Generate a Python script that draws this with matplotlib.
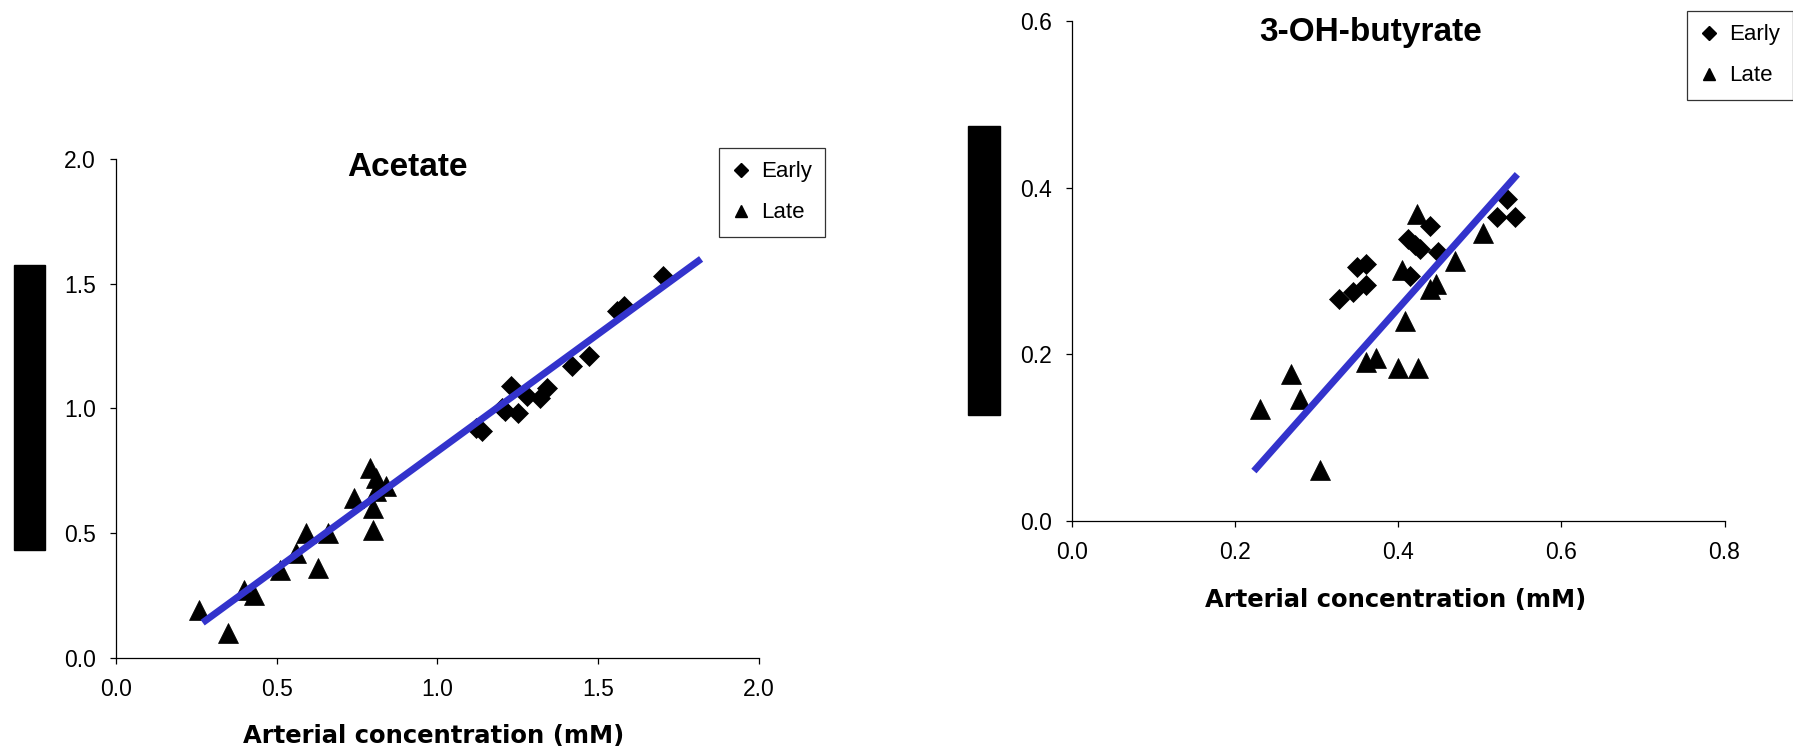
import matplotlib
matplotlib.use("Agg")
import matplotlib.pyplot as plt
from matplotlib.lines import Line2D
from matplotlib.patches import Rectangle

plt.rcParams['font.family'] = ['Liberation Sans', 'DejaVu Sans']

# Acetate panel
acetate_early_x = [1.12, 1.14, 1.20, 1.21, 1.23, 1.25, 1.28, 1.32, 1.34, 1.42, 1.47, 1.56, 1.58, 1.70]
acetate_early_y = [0.92, 0.91, 1.00, 0.99, 1.09, 0.98, 1.05, 1.04, 1.08, 1.17, 1.21, 1.39, 1.41, 1.53]
acetate_late_x = [0.26, 0.35, 0.40, 0.43, 0.51, 0.56, 0.59, 0.63, 0.66, 0.74, 0.79, 0.81, 0.81, 0.80, 0.80, 0.84]
acetate_late_y = [0.19, 0.10, 0.27, 0.25, 0.35, 0.42, 0.50, 0.36, 0.50, 0.64, 0.76, 0.72, 0.67, 0.60, 0.51, 0.69]
acetate_fit_x = [0.27, 1.82]
acetate_fit_y = [0.14, 1.60]

# 3-OH-butyrate panel
bhb_early_x = [0.327, 0.345, 0.360, 0.349, 0.361, 0.412, 0.420, 0.427, 0.414, 0.439, 0.449, 0.521, 0.533, 0.543]
bhb_early_y = [0.267, 0.275, 0.283, 0.305, 0.309, 0.339, 0.331, 0.327, 0.294, 0.354, 0.323, 0.365, 0.386, 0.365]
bhb_late_x = [0.231, 0.269, 0.280, 0.304, 0.361, 0.373, 0.400, 0.424, 0.408, 0.404, 0.423, 0.439, 0.446, 0.470, 0.504]
bhb_late_y = [0.135, 0.177, 0.147, 0.061, 0.191, 0.196, 0.184, 0.184, 0.240, 0.301, 0.369, 0.279, 0.285, 0.312, 0.346]
bhb_fit_x = [0.223, 0.546]
bhb_fit_y = [0.060, 0.416]

acetate_ticks = [0.0, 0.5, 1.0, 1.5, 2.0]
bhb_xticks = [0.0, 0.2, 0.4, 0.6, 0.8]
bhb_yticks = [0.0, 0.2, 0.4, 0.6]

xlabel = "Arterial concentration (mM)"
line_color = "#3333CC"


def draw_panel(ax, ex, ey, lx, ly, fx, fy, title, title_pos, legend_anchor):
    ax.plot(ex, ey, 'D', color='black', ms=10.5, mew=0.5, ls='none', zorder=3)
    ax.plot(lx, ly, '^', color='black', ms=14.5, mew=0.5, ls='none', zorder=3)
    ax.plot(fx, fy, color=line_color, lw=5, solid_capstyle='butt', zorder=4)

    for side in ['top', 'right']:
        ax.spines[side].set_visible(False)
    for side in ['left', 'bottom']:
        ax.spines[side].set_linewidth(0.9)
    ax.tick_params(direction='out', length=4.5, width=0.9, labelsize=16.5, pad=10)
    ax.xaxis.set_major_formatter(plt.FormatStrFormatter('%.1f'))
    ax.yaxis.set_major_formatter(plt.FormatStrFormatter('%.1f'))

    ax.text(title_pos[0], title_pos[1], title, transform=ax.transAxes,
            ha='center', va='center', fontsize=24, fontweight='bold')

    handles = [
        Line2D([], [], marker='D', color='black', ms=7, ls='none'),
        Line2D([], [], marker='^', color='black', ms=9, ls='none'),
    ]
    leg = ax.legend(handles, ['Early', 'Late'], loc='upper left',
                    bbox_to_anchor=legend_anchor, bbox_transform=ax.figure.transFigure,
                    borderaxespad=0, fontsize=16, frameon=True, fancybox=False,
                    handlelength=0.8, handletextpad=0.5, borderpad=0.6,
                    labelspacing=0.9)
    leg.get_frame().set_edgecolor('black')
    leg.get_frame().set_linewidth(0.9)


fig = plt.figure(figsize=(17.93, 7.5), dpi=100)

ax1 = fig.add_axes([0.0646, 0.1233, 0.3587, 0.6643])
draw_panel(ax1, acetate_early_x, acetate_early_y, acetate_late_x, acetate_late_y,
           acetate_fit_x, acetate_fit_y, "Acetate", (0.454, 0.983), (719 / 1793, 1 - 148 / 750))
ax1.set_xlim(0, 2.0)
ax1.set_ylim(0, 2.0)
ax1.set_xticks(acetate_ticks)
ax1.set_yticks(acetate_ticks)
ax1.set_xlabel(xlabel, fontsize=17.5, fontweight='bold', family='DejaVu Sans')
ax1.xaxis.set_label_coords(0.494, -0.134)

ax2 = fig.add_axes([0.5979, 0.3053, 0.3639, 0.6667])
draw_panel(ax2, bhb_early_x, bhb_early_y, bhb_late_x, bhb_late_y,
           bhb_fit_x, bhb_fit_y, "3-OH-butyrate", (0.458, 0.978), (1687 / 1793, 1 - 11 / 750))
ax2.set_xlim(0, 0.8)
ax2.set_ylim(0, 0.6)
ax2.set_xticks(bhb_xticks)
ax2.set_yticks(bhb_yticks)
ax2.set_xlabel(xlabel, fontsize=17.5, fontweight='bold', family='DejaVu Sans')
ax2.xaxis.set_label_coords(0.496, -0.134)

# blacked-out y-axis labels
fig.patches.append(Rectangle((14 / 1793, 1 - 550 / 750), 31 / 1793, 285 / 750,
                             transform=fig.transFigure, color='black'))
fig.patches.append(Rectangle((968 / 1793, 1 - 415 / 750), 32 / 1793, 289 / 750,
                             transform=fig.transFigure, color='black'))

fig.savefig("out.png", dpi=100)
